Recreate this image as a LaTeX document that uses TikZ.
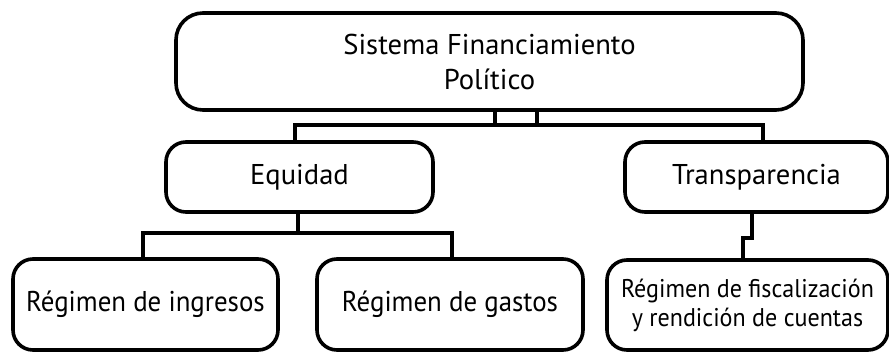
\documentclass[tikz,border=0pt]{standalone}
\usepackage{fontspec}
\setmainfont{PT Sans}
\newfontfamily\narrowsans[FakeStretch=0.94]{PT Sans}
\usepackage{tikz}

\begin{document}
\begin{tikzpicture}[x=0.5pt,y=-0.5pt,line width=1.8pt,
  box/.style={draw,rounded corners=10pt,align=center,inner sep=0pt,
    font=\fontsize{14.3}{17.5}\selectfont},
  leaf/.style={box,minimum height=45.5pt,font=\narrowsans\fontsize{14.3}{17.5}\selectfont}]

  \useasboundingbox (0,0) rectangle (889,353);

  \node[box,rounded corners=13.5pt,minimum width=313.5pt,minimum height=48.5pt]
    (sfp) at (489.5,61.5) {Sistema Financiamiento\\Político};
  \node[box,minimum width=133.5pt,minimum height=35pt] (eq) at (299.5,177) {Equidad};
  \node[box,minimum width=131.5pt,minimum height=35pt] (tr) at (756.5,177) {Transparencia};
  \node[leaf,minimum width=132.5pt] (ing) at (145.5,304.5) {Régimen de ingresos};
  \node[leaf,minimum width=133pt] (gas) at (450,304.5) {Régimen de gastos};
  \node[leaf,minimum width=140.5pt,minimum height=45pt,font=\narrowsans\fontsize{12.8}{14.5}\selectfont]
    (fis) at (747.5,305) {Régimen de fiscalización\\y rendición de cuentas};

  % top level
  \coordinate (b1) at (495,125);
  \coordinate (b2) at (537,125);
  \coordinate (busl) at (295,125);
  \coordinate (busr) at (763,125);
  \draw (b1 |- sfp.south) -- (b1);
  \draw (b2 |- sfp.south) -- (b2);
  \draw (busl |- eq.north) -- (busl) -- (busr) -- (busr |- tr.north);

  % equidad
  \coordinate (e0) at (298,233);
  \coordinate (el) at (143,233);
  \coordinate (er) at (452,233);
  \draw (e0 |- eq.south) -- (e0);
  \draw (el |- ing.north) -- (el) -- (er) -- (er |- gas.north);

  % transparencia
  \coordinate (t1) at (752,238);
  \coordinate (t2) at (743,238);
  \draw (t1 |- tr.south) -- (t1) -- (t2) -- (t2 |- fis.north);
\end{tikzpicture}
\end{document}
